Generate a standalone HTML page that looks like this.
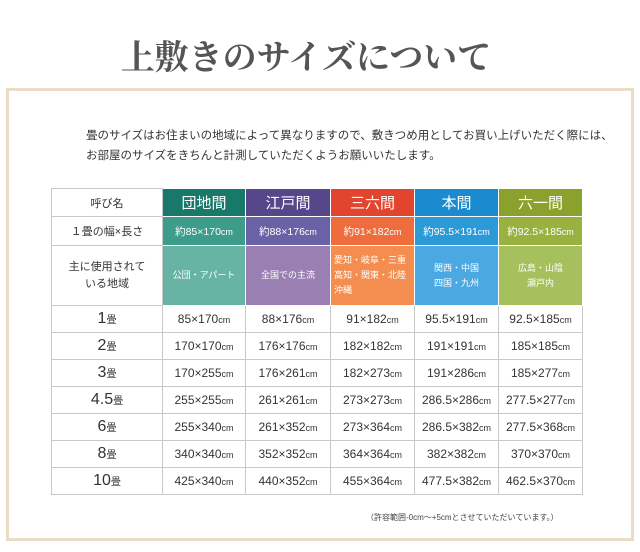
<!DOCTYPE html>
<html><head><meta charset="utf-8"><style>
body{margin:0;width:640px;height:552px;background:#fff;position:relative;overflow:hidden;font-family:"Liberation Sans","Noto Sans CJK JP",sans-serif;color:#333}
.title{position:absolute;left:0;width:612px;top:30px;text-align:center;font-family:"Liberation Serif","Noto Serif CJK SC",serif;font-size:34px;font-weight:bold;color:#555;letter-spacing:0px}
.box{position:absolute;left:6px;top:88px;width:622px;height:447px;border:3px solid #eadcc6}
.intro{position:absolute;left:86px;top:126px;font-size:11.5px;line-height:20px;color:#333}
table{position:absolute;left:51px;top:188px;border-collapse:collapse;table-layout:fixed}
td{border:1px solid #c8c8c8;text-align:center;padding:0;font-size:12px;color:#333}
.h td{height:27px;font-size:15px;color:#fff;border-color:#fff}
.h td:first-child{color:#333;font-size:11px;border-color:#c8c8c8}
.r2 td{height:28px;font-size:10.5px;color:#fff;border-color:#fff}
.r3 td{height:59px;font-size:9px;color:#fff;line-height:15px;border-color:#fff}
.r2 td:first-child,.r3 td:first-child{color:#333;font-size:11px;border-color:#c8c8c8}
.r3 td:first-child{font-size:11px;line-height:17px}
.d td{height:26px;font-size:12px}
.d td:first-child{font-size:16px}
.d td:first-child small{font-size:10px}
small{font-size:9px}
.note{position:absolute;left:366px;top:512px;font-size:8px;color:#444}
</style></head><body>
<div class="title">上敷きのサイズについて</div>
<div class="box"></div>
<div class="intro">畳のサイズはお住まいの地域によって異なりますので、敷きつめ用としてお買い上げいただく際には、<br>お部屋のサイズをきちんと計測していただくようお願いいたします。</div>
<table>
<colgroup><col style="width:111px"><col style="width:83px"><col style="width:85px"><col style="width:84px"><col style="width:84px"><col style="width:84px"></colgroup>
<tr class="h"><td>呼び名</td><td style="background:#18786a">団地間</td><td style="background:#56468a">江戸間</td><td style="background:#e2452f">三六間</td><td style="background:#1b8bd0">本間</td><td style="background:#8aa12e">六一間</td></tr>
<tr class="r2"><td>１畳の幅×長さ</td><td style="background:#3e9c8a">約85×170<small>cm</small></td><td style="background:#6a62a6">約88×176<small>cm</small></td><td style="background:#ef6c3c">約91×182<small>cm</small></td><td style="background:#2d9ad8">約95.5×191<small>cm</small></td><td style="background:#98b13f">約92.5×185<small>cm</small></td></tr>
<tr class="r3"><td>主に使用されて<br>いる地域</td><td style="background:#68b4a4">公団・アパート</td><td style="background:#9a80b2">全国での主流</td><td style="background:#f48e50;text-align:left;padding-left:3px">愛知・岐阜・三重<br>高知・関東・北陸<br>沖縄</td><td style="background:#4ba8e0">関西・中国<br>四国・九州</td><td style="background:#a7c05e">広島・山陰<br>瀬戸内</td></tr>
<tr class="d"><td>1<small>畳</small></td><td>85×170<small>cm</small></td><td>88×176<small>cm</small></td><td>91×182<small>cm</small></td><td>95.5×191<small>cm</small></td><td>92.5×185<small>cm</small></td></tr>
<tr class="d"><td>2<small>畳</small></td><td>170×170<small>cm</small></td><td>176×176<small>cm</small></td><td>182×182<small>cm</small></td><td>191×191<small>cm</small></td><td>185×185<small>cm</small></td></tr>
<tr class="d"><td>3<small>畳</small></td><td>170×255<small>cm</small></td><td>176×261<small>cm</small></td><td>182×273<small>cm</small></td><td>191×286<small>cm</small></td><td>185×277<small>cm</small></td></tr>
<tr class="d"><td>4.5<small>畳</small></td><td>255×255<small>cm</small></td><td>261×261<small>cm</small></td><td>273×273<small>cm</small></td><td>286.5×286<small>cm</small></td><td>277.5×277<small>cm</small></td></tr>
<tr class="d"><td>6<small>畳</small></td><td>255×340<small>cm</small></td><td>261×352<small>cm</small></td><td>273×364<small>cm</small></td><td>286.5×382<small>cm</small></td><td>277.5×368<small>cm</small></td></tr>
<tr class="d"><td>8<small>畳</small></td><td>340×340<small>cm</small></td><td>352×352<small>cm</small></td><td>364×364<small>cm</small></td><td>382×382<small>cm</small></td><td>370×370<small>cm</small></td></tr>
<tr class="d"><td>10<small>畳</small></td><td>425×340<small>cm</small></td><td>440×352<small>cm</small></td><td>455×364<small>cm</small></td><td>477.5×382<small>cm</small></td><td>462.5×370<small>cm</small></td></tr>
</table>
<div class="note">（許容範囲-0cm～+5cmとさせていただいています。）</div>
</body></html>
